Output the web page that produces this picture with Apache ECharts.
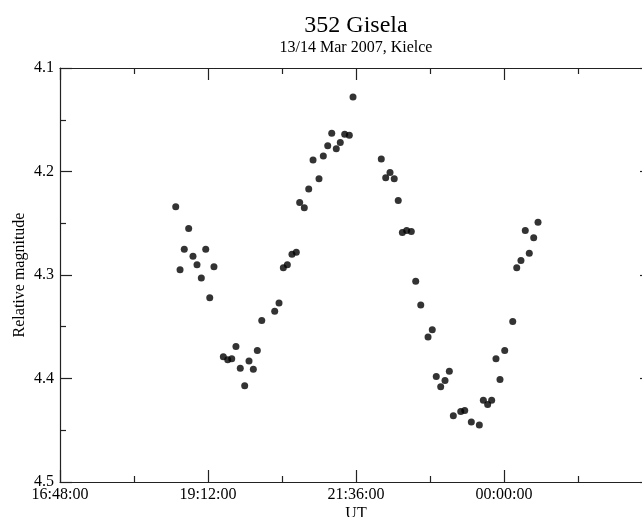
<!DOCTYPE html>
<html>
<head>
<meta charset="utf-8">
<script src="https://cdn.jsdelivr.net/npm/echarts@6/dist/echarts.min.js"></script>
<style>
html,body{margin:0;padding:0;overflow:hidden;background:#fff;width:642px;height:517px;}
#chart{width:712px;height:517px;}
</style>
</head>
<body>
<div id="chart"></div>
<script>
const titleText = "352 Gisela";
const subtitleText = "13/14 Mar 2007, Kielce";
const xName = "UT";
const yName = "Relative magnitude";

const times = [
  "18:40:36","18:44:48","18:48:54","18:53:12","18:57:24","19:01:18","19:05:30","19:09:48","19:13:42","19:17:48",
  "19:26:54","19:31:12","19:35:06","19:39:12","19:43:24","19:47:42","19:51:54","19:56:06","20:00:00","20:04:18",
  "20:16:54","20:21:06","20:25:18","20:29:12","20:33:42","20:37:54","20:41:12","20:45:42","20:50:00","20:54:12",
  "21:00:00","21:04:12","21:08:30","21:12:24","21:16:48","21:20:42","21:25:00","21:29:30","21:33:06",
  "22:00:36","22:04:54","22:09:06","22:13:12","22:17:06","22:21:06","22:25:18","22:29:48","22:34:06","22:39:00",
  "22:46:06","22:50:12","22:54:06","22:58:24","23:02:36","23:06:48","23:10:42","23:17:54","23:21:48","23:28:12",
  "23:36:00","23:39:54","23:44:06","23:48:00","23:52:12","23:56:06","00:00:42","00:08:30","00:12:24","00:16:30",
  "00:20:42","00:24:36","00:28:54","00:33:06"
];
const mags = [
  4.234,4.295,4.275,4.255,4.282,4.290,4.303,4.275,4.322,4.292,
  4.379,4.382,4.381,4.369,4.390,4.407,4.383,4.391,4.373,4.344,
  4.335,4.327,4.293,4.290,4.280,4.278,4.230,4.235,4.217,4.189,
  4.207,4.185,4.175,4.163,4.178,4.172,4.164,4.165,4.128,
  4.188,4.206,4.201,4.207,4.228,4.259,4.257,4.258,4.306,4.329,
  4.360,4.353,4.398,4.408,4.402,4.393,4.436,4.432,4.431,4.442,
  4.445,4.421,4.425,4.421,4.381,4.401,4.373,4.345,4.293,4.286,
  4.257,4.279,4.264,4.249
];
// axis range in minutes from 00:00 on 13 Mar (16:48 -> 02:24 next day)
const xMin = 1008, xMax = 1584, xStep = 144;
const yMin = 4.1, yMax = 4.5, yStep = 0.1;

function toMinutes(t){
  const p = t.split(':').map(Number);
  let v = p[0]*60 + p[1] + p[2]/60;
  if (p[0] < 12) v += 1440;
  return v;
}
function pad(n){ return (n<10?'0':'') + n; }
function fmtTime(v){
  const total = Math.round(v);
  const h = Math.floor(total/60) % 24;
  const m = total % 60;
  return pad(h) + ':' + pad(m) + ':00';
}

const data = times.map((t,i) => [toMinutes(t), mags[i]]);
const font = "'Liberation Serif', 'DejaVu Serif', serif";
const lineStyle = {color:'#222', width:1.2};

const chart = echarts.init(document.getElementById('chart'), null, {renderer:'canvas'});
chart.setOption({
  animation:false,
  backgroundColor:'#fff',
  title:{
    text:titleText, subtext:subtitleText, left:'center', top:9, itemGap:2,
    textStyle:{fontFamily:font, fontSize:24, fontWeight:'normal', color:'#000'},
    subtextStyle:{fontFamily:font, fontSize:16, color:'#000'}
  },
  grid:{left:60, right:60, top:68, bottom:35, containLabel:false, outerBoundsMode:'none'},
  xAxis:[{
    type:'value', min:xMin, max:xMax, interval:xStep, position:'bottom',
    name:xName, nameLocation:'middle', nameGap:24, nameMoveOverlap:false,
    nameTextStyle:{fontFamily:font, fontSize:16, color:'#000'},
    axisLine:{show:true, lineStyle:lineStyle},
    axisTick:{show:true, inside:true, length:12, lineStyle:lineStyle},
    minorTick:{show:true, splitNumber:2, length:6, lineStyle:lineStyle},
    splitLine:{show:false},
    axisLabel:{fontFamily:font, fontSize:16, color:'#000', margin:5, showMaxLabel:false, formatter:fmtTime}
  },{
    type:'value', min:xMin, max:xMax, interval:xStep, position:'top',
    axisLine:{show:true, lineStyle:lineStyle},
    axisTick:{show:true, inside:true, length:12, lineStyle:lineStyle},
    minorTick:{show:true, splitNumber:2, length:6, lineStyle:lineStyle},
    splitLine:{show:false}, axisLabel:{show:false}
  }],
  yAxis:[{
    type:'value', inverse:true, min:yMin, max:yMax, interval:yStep, position:'left',
    name:yName, nameLocation:'middle', nameGap:32, nameRotate:90, nameMoveOverlap:false,
    nameTextStyle:{fontFamily:font, fontSize:16, color:'#000'},
    axisLine:{show:true, lineStyle:lineStyle},
    axisTick:{show:true, inside:true, length:12, lineStyle:lineStyle},
    minorTick:{show:true, splitNumber:2, length:6, lineStyle:lineStyle},
    splitLine:{show:false},
    axisLabel:{fontFamily:font, fontSize:16, color:'#000', margin:6, formatter:v=>v.toFixed(1)}
  },{
    type:'value', inverse:true, min:yMin, max:yMax, interval:yStep, position:'right',
    axisLine:{show:true, lineStyle:lineStyle},
    axisTick:{show:true, inside:true, length:12, lineStyle:lineStyle},
    minorTick:{show:true, splitNumber:2, length:6, lineStyle:lineStyle},
    splitLine:{show:false}, axisLabel:{show:false}
  }],
  series:[{
    type:'scatter', xAxisIndex:0, yAxisIndex:0, data:data,
    symbol:'circle', symbolSize:7, itemStyle:{color:'#000'}
  }]
});
</script>
</body>
</html>
